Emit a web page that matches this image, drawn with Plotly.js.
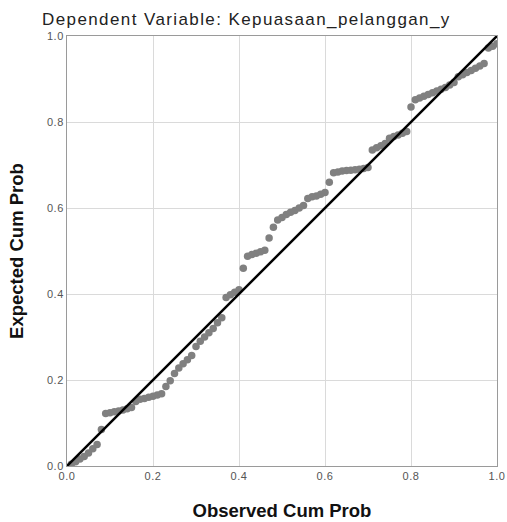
<!DOCTYPE html>
<html>
<head>
<meta charset="utf-8">
<script src="https://cdn.plot.ly/plotly-3.0.1.min.js"></script>
<style>
html,body{margin:0;padding:0;background:#fff;}
#chart{width:507px;height:522px;}
#chart .gtitle{letter-spacing:1.4px;}
#chart .xtick text, #chart .ytick text{letter-spacing:0.5px;}
</style>
</head>
<body>
<div id="chart"></div>
<script>
var chartTitle = "Dependent Variable: Kepuasaan_pelanggan_y";
var xAxisTitle = "Observed Cum Prob";
var yAxisTitle = "Expected Cum Prob";
var tickValues = [0, 0.2, 0.4, 0.6, 0.8, 1.0];
var tickLabels = ["0.0", "0.2", "0.4", "0.6", "0.8", "1.0"];

var observedCumProb = [
0.01,0.02,0.03,0.04,0.05,0.06,0.07,0.08,0.09,0.10,
0.11,0.12,0.13,0.14,0.15,0.16,0.17,0.18,0.19,0.20,
0.21,0.22,0.23,0.24,0.25,0.26,0.27,0.28,0.29,0.30,
0.31,0.32,0.33,0.34,0.35,0.36,0.37,0.38,0.39,0.40,
0.41,0.42,0.43,0.44,0.45,0.46,0.47,0.48,0.49,0.50,
0.51,0.52,0.53,0.54,0.55,0.56,0.57,0.58,0.59,0.60,
0.61,0.62,0.63,0.64,0.65,0.66,0.67,0.68,0.69,0.70,
0.71,0.72,0.73,0.74,0.75,0.76,0.77,0.78,0.79,0.80,
0.81,0.82,0.83,0.84,0.85,0.86,0.87,0.88,0.89,0.90,
0.91,0.92,0.93,0.94,0.95,0.96,0.97,0.98,0.99,1.00];

var expectedCumProb = [
0.004,0.010,0.016,0.022,0.030,0.040,0.050,0.085,0.122,0.124,
0.126,0.128,0.130,0.133,0.136,0.150,0.155,0.157,0.160,0.162,
0.165,0.168,0.185,0.198,0.215,0.228,0.238,0.247,0.257,0.278,
0.290,0.300,0.310,0.320,0.333,0.345,0.392,0.398,0.404,0.410,
0.460,0.488,0.492,0.495,0.498,0.502,0.530,0.555,0.572,0.578,
0.585,0.590,0.594,0.600,0.606,0.622,0.626,0.628,0.632,0.636,
0.660,0.682,0.684,0.686,0.687,0.688,0.689,0.690,0.692,0.694,
0.735,0.740,0.745,0.750,0.762,0.766,0.770,0.774,0.778,0.835,
0.852,0.856,0.860,0.864,0.868,0.872,0.876,0.880,0.886,0.892,
0.905,0.910,0.915,0.920,0.925,0.930,0.936,0.972,0.976,0.982];

var refLineX = [0, 1];
var refLineY = [0, 1];

var traces = [
  {
    x: observedCumProb, y: expectedCumProb, type: 'scatter', mode: 'markers',
    marker: {color: '#808080', size: 7.5, line: {width: 0}},
    hoverinfo: 'x+y', showlegend: false
  },
  {
    x: refLineX, y: refLineY, type: 'scatter', mode: 'lines',
    line: {color: '#000000', width: 2.5},
    hoverinfo: 'skip', showlegend: false
  }
];

var axisCommon = {
  range: [0, 1],
  tickvals: tickValues,
  ticktext: tickLabels,
  showgrid: true,
  gridcolor: '#dadada',
  gridwidth: 1,
  zeroline: false,
  showline: true,
  linecolor: '#9a9a9a',
  linewidth: 1,
  mirror: true,
  ticks: '',
  tickfont: {family: 'Liberation Sans, Arial, sans-serif', size: 11, color: '#555555'},
  fixedrange: true
};

var layout = {
  width: 507, height: 522,
  margin: {l: 67, r: 10, t: 36, b: 56},
  paper_bgcolor: '#ffffff',
  plot_bgcolor: '#ffffff',
  title: {
    text: chartTitle,
    font: {family: 'Liberation Sans, Arial, sans-serif', size: 17, color: '#222222'},
    xref: 'container', x: 42/507, xanchor: 'left',
    yref: 'container', y: 1 - 19/522, yanchor: 'middle'
  },
  xaxis: Object.assign({}, axisCommon, {
    title: {text: xAxisTitle, font: {family: 'Liberation Sans, Arial, sans-serif', size: 18.5, color: '#111111', weight: 'bold'}, standoff: 22}
  }),
  yaxis: Object.assign({}, axisCommon, {
    title: {text: yAxisTitle, font: {family: 'Liberation Sans, Arial, sans-serif', size: 18.5, color: '#111111', weight: 'bold'}, standoff: 20}
  }),
  showlegend: false
};

Plotly.newPlot('chart', traces, layout, {displayModeBar: false, staticPlot: true});
</script>
</body>
</html>
